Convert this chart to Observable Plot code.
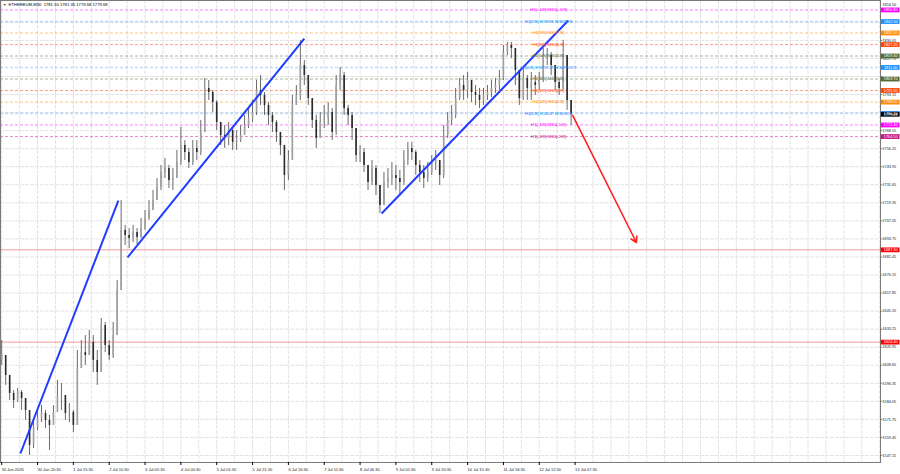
<!DOCTYPE html>
<html><head><meta charset="utf-8">
<script src="https://cdn.jsdelivr.net/npm/d3@7"></script>
<script src="https://cdn.jsdelivr.net/npm/@observablehq/plot@0.6"></script>
<style>body{margin:0;background:#fff;overflow:hidden}</style>
</head><body><div id="chart"></div>
<script>
const title = "ETHEREUM,M30  1781.30 1781.35 1779.68 1779.68";
const firstOpen = 1612.0;
const closes = [
1615.3,1601.7,1589.4,1584.6,1590.1,1586.0,1577.8,1554.0,1566.2,1572.4,
1575.8,1571.0,1567.6,1576.5,1588.0,1588.0,1575.8,1576.5,1567.6,1606.4,
1617.3,1615.3,1624.2,1611.9,1603.7,1635.7,1622.1,1615.3,1628.9,1659.6,
1700.5,1697.1,1695.0,1699.1,1695.7,1701.8,1708.7,1714.1,1720.9,1729.8,
1740.0,1742.7,1734.6,1735.9,1746.8,1758.4,1753.6,1746.8,1756.4,1753.6,
1767.3,1797.3,1794.5,1787.7,1774.1,1765.2,1763.2,1768.6,1760.5,1761.8,
1765.2,1772.0,1776.8,1780.9,1795.9,1792.5,1785.7,1778.9,1774.1,1767.3,
1758.4,1738.0,1748.2,1785.7,1792.5,1812.9,1806.1,1790.4,1775.5,1763.2,
1774.1,1776.8,1780.9,1767.3,1799.3,1806.1,1783.6,1778.9,1770.0,1751.6,
1753.6,1744.8,1733.2,1742.7,1731.2,1717.5,1733.2,1735.9,1738.0,1735.9,
1733.2,1748.2,1756.4,1753.6,1744.8,1740.0,1735.9,1740.0,1746.8,1748.2,
1738.0,1765.2,1775.5,1778.9,1790.4,1799.3,1795.9,1802.7,1794.5,1792.5,
1789.1,1792.5,1794.5,1797.3,1799.3,1804.1,1821.8,1826.6,1824.5,1809.5,
1790.4,1804.1,1797.3,1801.3,1799.3,1802.7,1819.7,1819.7,1812.9,1801.3,
1797.3,1819.7,1789.1,1779.68];
const highs = [
1625.5,1613.3,1598.3,1591.4,1592.8,1591.4,1584.6,1571.0,1571.0,1577.8,
1581.2,1577.8,1574.4,1581.2,1598.3,1596.2,1584.6,1582.6,1577.8,1618.7,
1625.5,1628.9,1632.3,1628.9,1618.7,1640.5,1637.8,1625.5,1637.8,1666.4,
1720.9,1703.9,1701.8,1703.9,1701.8,1708.7,1714.1,1720.9,1727.7,1735.9,
1744.8,1749.6,1744.8,1742.7,1755.0,1770.7,1761.8,1756.4,1761.8,1761.8,
1775.5,1804.1,1802.7,1795.9,1789.1,1774.1,1772.0,1774.1,1770.0,1768.6,
1772.0,1778.9,1783.6,1789.1,1802.7,1806.1,1794.5,1787.7,1780.9,1775.5,
1767.3,1758.4,1755.0,1792.5,1799.3,1830.0,1816.3,1804.1,1789.1,1778.9,
1780.9,1785.7,1787.7,1783.6,1806.1,1811.6,1808.2,1785.7,1780.9,1768.6,
1758.4,1756.4,1744.8,1748.2,1744.8,1731.2,1740.0,1742.7,1746.8,1744.8,
1741.4,1755.0,1760.5,1760.5,1755.0,1748.2,1744.8,1746.8,1751.6,1755.0,
1748.2,1772.0,1780.9,1785.7,1797.3,1804.1,1806.1,1808.2,1802.7,1799.3,
1797.3,1797.3,1799.3,1802.7,1804.1,1809.5,1826.6,1828.6,1828.6,1824.5,
1809.5,1810.9,1806.1,1808.2,1806.1,1808.2,1824.5,1824.5,1821.8,1812.9,
1804.1,1830.0,1819.7,1789.1];
const lows = [
1608.5,1594.9,1584.6,1579.2,1583.3,1577.8,1571.0,1547.1,1551.9,1564.2,
1569.6,1565.5,1550.6,1567.6,1581.2,1577.8,1571.0,1569.6,1562.8,1567.6,
1608.5,1608.5,1617.3,1603.7,1594.9,1611.9,1617.3,1611.9,1613.3,1628.9,
1659.6,1690.3,1688.2,1692.3,1690.9,1695.0,1700.5,1707.3,1714.1,1722.3,
1727.7,1735.9,1729.1,1727.7,1735.9,1744.8,1748.2,1742.7,1744.8,1748.2,
1751.6,1768.6,1789.1,1780.9,1768.6,1758.4,1756.4,1758.4,1755.0,1755.0,
1760.5,1765.2,1770.0,1774.1,1778.9,1785.7,1778.9,1772.0,1767.3,1760.5,
1751.6,1727.7,1734.6,1748.2,1785.7,1789.1,1799.3,1785.7,1770.0,1756.4,
1765.2,1770.0,1772.0,1761.8,1765.2,1795.9,1778.9,1772.0,1761.8,1746.8,
1746.8,1740.0,1727.7,1731.2,1724.3,1712.1,1717.5,1729.1,1731.2,1727.7,
1724.3,1731.2,1744.8,1748.2,1738.0,1733.2,1729.1,1733.2,1738.0,1741.4,
1731.2,1735.9,1763.2,1772.0,1776.8,1789.1,1789.1,1790.4,1787.7,1785.7,
1783.6,1785.7,1789.1,1791.1,1793.9,1795.9,1802.7,1819.7,1817.7,1799.3,
1785.7,1789.1,1789.1,1789.1,1792.5,1795.9,1801.3,1812.9,1806.1,1795.9,
1792.5,1795.9,1782.3,1772.0];

// price grid lines and the labels the reference shows next to them
const yGrid = [1547.15,1559.45,1571.75,1584.05,1596.35,1608.65,1620.95,1633.25,1645.55,1657.85,
1670.15,1682.45,1694.75,1707.05,1719.35,1731.65,1743.95,1756.25,1768.55,1780.85,1793.15,1805.45,
1817.75,1830.05,1842.35];
const yLabels = [1547.15,1559.45,1571.75,1584.05,1596.35,1608.65,1620.95,1633.25,1645.55,1657.85,
1670.15,1682.45,1694.75,1707.05,1719.35,1731.65,1743.95,1756.25,1768.55,1793.15,
1817.75,1830.05,1854.50];
const xTickBars = [0,9,18,27,36,45,54,63,72,81,90,99,108,117,126,135,144];
const xTickLabels = ["30 Jun 2026","30 Jun 20:30","1 Jul 15:30","2 Jul 10:30","3 Jul 05:30","4 Jul 00:30",
"5 Jul 01:30","5 Jul 21:30","6 Jul 16:30","7 Jul 11:30","8 Jul 06:30","9 Jul 01:30","9 Jul 20:30",
"10 Jul 15:30","11 Jul 16:30","12 Jul 12:30","13 Jul 07:30"];

const levelNames = ["H1[+1/8] M30[+1/8]","H4[7/8] H1RES M30RES","H1[7/8] M30[7/8]","H1[6/8] M30[6/8]",
"H1[5/8] M30[5/8]","H4[6/8] H1PIVOT M30PIVOT","H1[3/8] M30[3/8]","H1[2/8] M30[2/8]","H1[1/8] M30[1/8]",
"H4[5/8] H1SUP M30SUP","H1[-1/8] M30[-1/8]","H1[-2/8] M30[-2/8]"];
const levelPrices = [1850.8,1842.9,1835.1,1827.2,1819.4,1811.6,1803.7,1795.9,1788.0,1780.2,1772.4,1764.5];
const levelColors = ["#ff00ff","#1e90ff","#ff8c00","#ff4500","#556b2f","#1e90ff","#556b2f","#ff4500","#ff8c00","#1e90ff","#ff00ff","#c71585"];

const redLevels = [1687.3,1624.4];
const lastPrice = 1779.68;

const trendX1 = [4.7,31.6,95.4];
const trendY1 = [1548.5,1682.1,1712.1];
const trendX2 = [29.3,76.0,142.3];
const trendY2 = [1720.9,1831.3,1843.6];
const arrowFrom = [143.4,1778.9];
const arrowTo = [159.4,1692.3];

// build tables
const candles = closes.map((c,i)=>{const o=i===0?firstOpen:closes[i-1];
  return {i,o,c,h:Math.max(highs[i],o,c),l:Math.min(lows[i],o,c),up:c>=o};});
const levels = levelNames.map((n,i)=>({name:n,p:levelPrices[i],color:levelColors[i],blue:levelColors[i]==="#1e90ff"}));
const trends = trendX1.map((x,i)=>({x1:x,y1:trendY1[i],x2:trendX2[i],y2:trendY2[i]}));
const tags = [
  ...levels.map(d=>({p:d.p,color:d.color})),
  ...redLevels.map(p=>({p,color:"#ff0000"})),
  {p:lastPrice,color:"#000000"}
];
const labelMap = new Map(xTickBars.map((b,i)=>[b,xTickLabels[i]]));
const xGrid = d3.range(0,221,4.5);

const chart = Plot.plot({
  width:900,height:474,marginLeft:0,marginRight:20,marginTop:0,marginBottom:12,
  style:{fontFamily:"'Liberation Sans',Arial,sans-serif",fontSize:"4px",background:"#fff",overflow:"visible"},
  x:{domain:[-0.3,220.7],axis:null},
  y:{domain:[1542.37,1857.23],axis:null},
  color:{type:"identity"},
  marks:[
    Plot.gridY({ticks:yGrid,stroke:"#e3e3e3",strokeOpacity:1,strokeDasharray:"4,1"}),
    Plot.gridX({ticks:xGrid,stroke:"#e3e3e3",strokeOpacity:1,strokeDasharray:"4,1"}),
    Plot.ruleY(redLevels,{stroke:"#f29a9a",strokeWidth:1}),
    Plot.ruleY(levels.filter(d=>!d.blue),{y:"p",stroke:"color",strokeWidth:1,strokeOpacity:0.5,strokeDasharray:"3,2"}),
    Plot.ruleY(levels.filter(d=>d.blue),{y:"p",stroke:"color",strokeWidth:1.6,strokeOpacity:0.3,strokeDasharray:"3,2"}),
    Plot.ruleX(candles,{x:"i",y1:"l",y2:"h",stroke:"#6a6a6a",strokeWidth:1}),
    Plot.ruleX(candles.filter(d=>d.up),{x:"i",y1:"o",y2:"c",stroke:"#a0a0a0",strokeWidth:1.6}),
    Plot.ruleX(candles.filter(d=>!d.up),{x:"i",y1:"o",y2:"c",stroke:"#2a2a2a",strokeWidth:1.6}),
    Plot.link(trends,{x1:"x1",y1:"y1",x2:"x2",y2:"y2",stroke:"#1f3cff",strokeWidth:2}),
    Plot.arrow([{x1:arrowFrom[0],y1:arrowFrom[1],x2:arrowTo[0],y2:arrowTo[1]}],{x1:"x1",y1:"y1",x2:"x2",y2:"y2",stroke:"#ff2020",strokeWidth:1.6,headLength:6}),
    Plot.text(levels,{x:()=>137.3,y:"p",text:"name",fill:"color",fontSize:4.3}),
    Plot.frame({stroke:"#7a7a7a"}),
    Plot.ruleY(yGrid,{y:d=>d,x1:()=>220.7,x2:()=>221.3,stroke:"#7a7a7a"}),
    Plot.axisY({ticks:yLabels,anchor:"right",tickSize:0,tickPadding:2,tickFormat:d=>d.toFixed(2),fill:"#222",fontSize:3.8}),
    Plot.axisX({ticks:xTickBars,anchor:"bottom",tickSize:3,tickPadding:2.5,tickFormat:d=>labelMap.get(d),textAnchor:"start",fill:"#222",fontSize:4}),
    Plot.ruleY(tags,{y:"p",x1:()=>220.9,x2:()=>225.6,stroke:"color",strokeWidth:4.8}),
    Plot.text(tags,{x:()=>223.25,y:"p",text:d=>d.p.toFixed(2),fill:"#fff",fontSize:3.8}),
    Plot.text(["▼"],{frameAnchor:"top-left",dx:2.5,dy:3,fontSize:3.5,fill:"#333"}),
    Plot.text([title],{frameAnchor:"top-left",dx:8,dy:2.5,fontSize:4.2,fill:"#000"})
  ]
});
document.getElementById("chart").appendChild(chart);
</script></body></html>
